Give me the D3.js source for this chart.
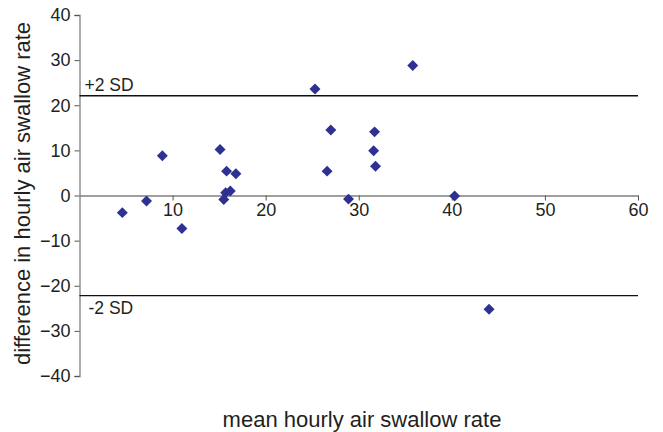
<!DOCTYPE html>
<html>
<head>
<meta charset="utf-8">
<script src="https://cdn.jsdelivr.net/npm/d3@7"></script>
<style>
  body { margin: 0; background: #fff; }
  svg text { font-family: "Liberation Sans", Arial, sans-serif; fill: #231f20; }
</style>
</head>
<body>
<div class="bland-altman"></div>
<script>
const meanRate = [4.6, 7.2, 8.9, 11.0, 15.1, 15.5, 15.7, 15.8, 16.2, 16.8,
  25.3, 26.6, 27.0, 28.9, 31.6, 31.7, 31.8, 35.8, 40.3, 44.0];
const diffRate = [-3.8, -1.2, 8.8, -7.3, 10.2, -0.9, 0.6, 5.4, 1.0, 4.8,
  23.6, 5.4, 14.5, -0.8, 9.9, 14.1, 6.5, 28.8, -0.1, -25.2];
const xTicks = [10, 20, 30, 40, 50, 60];
const yTicks = [-40, -30, -20, -10, 0, 10, 20, 30, 40];
const sdLines = [
  { label: '+2 SD', value: 22.1 },
  { label: '-2 SD', value: -22.2 },
];

const POINT_COLOR = '#2e3192';
const width = 663;
const height = 432;
const margin = { left: 79.5, right: 25, top: 15, bottom: 56 };

const svg = d3.select('.bland-altman')
  .append('svg')
  .attr('width', width)
  .attr('height', height);

const x = d3.scaleLinear().domain([0, 60]).range([margin.left, width - margin.right]);
const y = d3.scaleLinear().domain([-40, 40]).range([height - margin.bottom, margin.top]);

// y axis
const yAxis = svg.append('g')
  .attr('transform', `translate(${margin.left},0)`)
  .call(d3.axisLeft(y).tickValues(yTicks).tickSize(5).tickPadding(4));
yAxis.select('.domain').attr('stroke', '#7f7f7f').attr('stroke-width', 1.3);
yAxis.selectAll('.tick line').attr('stroke', '#555');
yAxis.selectAll('.tick text').style('font-size', '18px');

// x axis through zero
const xAxis = svg.append('g')
  .attr('transform', `translate(0,${y(0)})`)
  .call(d3.axisBottom(x).tickValues(xTicks).tickSize(5).tickSizeOuter(0).tickPadding(3));
xAxis.select('.domain').attr('stroke', '#7f7f7f').attr('stroke-width', 1.5);
xAxis.selectAll('.tick line').attr('stroke', '#555');
xAxis.selectAll('.tick text').style('font-size', '18px');

// ±2 SD lines
const sd = svg.selectAll('.sd')
  .data(sdLines)
  .enter()
  .append('g')
  .attr('class', 'sd');
sd.append('line')
  .attr('x1', x(0))
  .attr('x2', x(60))
  .attr('y1', d => y(d.value))
  .attr('y2', d => y(d.value))
  .attr('stroke', '#111')
  .attr('stroke-width', 1.3);
sd.append('text')
  .attr('x', d => d.value > 0 ? x(0) + 5 : x(0) + 9)
  .attr('y', d => d.value > 0 ? y(d.value) - 5 : y(d.value) + 18)
  .style('font-size', '17.5px')
  .text(d => d.label);

// points
const diamond = d3.symbol().type(d3.symbolSquare).size(60);
svg.selectAll('.pt')
  .data(meanRate.map((m, i) => ({ m, d: diffRate[i] })))
  .enter()
  .append('path')
  .attr('class', 'pt')
  .attr('d', diamond)
  .attr('transform', p => `translate(${x(p.m)},${y(p.d)}) rotate(45)`)
  .attr('fill', POINT_COLOR);

// axis titles
svg.append('text')
  .attr('x', 362)
  .attr('y', 427)
  .attr('text-anchor', 'middle')
  .style('font-size', '22px')
  .text('mean hourly air swallow rate');

svg.append('text')
  .attr('transform', `translate(30,${y(0) - 2}) rotate(-90)`)
  .attr('text-anchor', 'middle')
  .style('font-size', '22px')
  .text('difference in hourly air swallow rate');
</script>
</body>
</html>
